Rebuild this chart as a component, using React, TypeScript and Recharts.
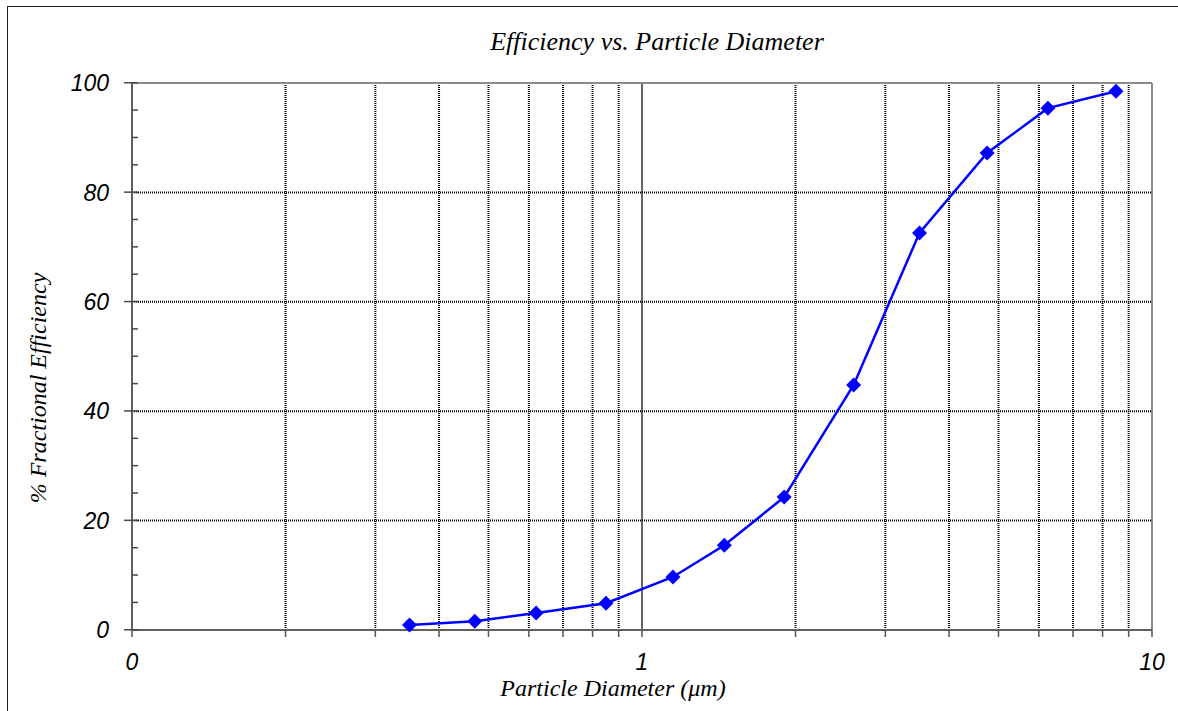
import { LineChart, Line, XAxis, YAxis, ReferenceLine } from 'recharts';

const diameters = [0.35, 0.47, 0.62, 0.85, 1.15, 1.45, 1.9, 2.6, 3.5, 4.75, 6.25, 8.5];
const efficiency = [0.9, 1.6, 3.1, 4.9, 9.7, 15.5, 24.3, 44.8, 72.6, 87.2, 95.4, 98.5];

const xTicks = [0.1, 0.2, 0.3, 0.4, 0.5, 0.6, 0.7, 0.8, 0.9, 1, 2, 3, 4, 5, 6, 7, 8, 9, 10];
const xLabelValues = [0.1, 1, 10];
const xLabelTexts = ['0', '1', '10'];
const minorGrid = [0.2, 0.3, 0.4, 0.5, 0.6, 0.7, 0.8, 0.9, 2, 3, 4, 5, 6, 7, 8, 9];

const yTicks = [0, 5, 10, 15, 20, 25, 30, 35, 40, 45, 50, 55, 60, 65, 70, 75, 80, 85, 90, 95, 100];
const yLabelTicks = [0, 20, 40, 60, 80, 100];
const hGrid = [20, 40, 60, 80];

const data = diameters.map((d, i) => ({ d, eff: efficiency[i] }));

const tickFont = { fontFamily: '"Liberation Sans", Arial, sans-serif', fontStyle: 'italic', fontSize: 23 };
const serif = '"Liberation Serif", "Times New Roman", serif';

const Diamond = (props: any) => {
  const { cx, cy } = props;
  if (cx == null || cy == null) return null;
  const r = 7.5;
  return (
    <polygon
      points={`${cx},${cy - r} ${cx + r},${cy} ${cx},${cy + r} ${cx - r},${cy}`}
      fill="#0000FF"
    />
  );
};

// y ticks: majors cross the axis, minors only point inward
const YTick = (props: any) => {
  const { x, y, payload } = props;
  const v = payload.value;
  const major = yLabelTicks.includes(v);
  return (
    <g>
      <rect x={major ? x - 8 : x} y={y - 1} width={major ? 14 : 6} height={1.5} fill="#4a4a4a" />
      {major && (
        <text x={x - 23} y={y} dy="0.36em" textAnchor="end" fill="#000" style={tickFont}>
          {v}
        </text>
      )}
    </g>
  );
};

const XTick = (props: any) => {
  const { x, y, payload } = props;
  const idx = xLabelValues.findIndex((v) => Math.abs(v - payload.value) < 1e-9);
  if (idx < 0) return <g />;
  return (
    <text x={x} y={y + 31} textAnchor="middle" fill="#000" style={tickFont}>
      {xLabelTexts[idx]}
    </text>
  );
};

const App = () => {
  return (
    <div style={{ position: 'fixed', left: 0, top: 0, width: 1178, height: 711, background: '#fff', overflow: 'hidden' }}>
      <div
        style={{
          position: 'absolute',
          left: 7,
          top: 6,
          width: 1200,
          height: 720,
          borderLeft: '1px solid #222',
          borderTop: '1px solid #222',
        }}
      />
      <div
        style={{
          position: 'absolute',
          left: 0,
          width: 1178,
          top: 28,
          textAlign: 'center',
          paddingLeft: 136,
          boxSizing: 'border-box',
          fontFamily: serif,
          fontStyle: 'italic',
          fontSize: 26,
          lineHeight: '28px',
        }}
      >
        Efficiency vs. Particle Diameter
      </div>
      <div
        style={{
          position: 'absolute',
          left: 0,
          width: 1178,
          top: 674,
          textAlign: 'center',
          paddingLeft: 48,
          boxSizing: 'border-box',
          fontFamily: serif,
          fontStyle: 'italic',
          fontSize: 24,
          lineHeight: '28px',
        }}
      >
        Particle Diameter (<span>μ</span>m)
      </div>
      <div
        style={{
          position: 'absolute',
          left: 38,
          top: 388,
          transform: 'translate(-50%, -50%) rotate(-90deg)',
          whiteSpace: 'nowrap',
          fontFamily: serif,
          fontStyle: 'italic',
          fontSize: 24,
          lineHeight: '28px',
        }}
      >
        % Fractional Efficiency
      </div>
      <div style={{ position: 'absolute', left: 0, top: 0 }}>
        <LineChart width={1178} height={711} data={data} margin={{ top: 83, right: 26, left: 72, bottom: 51 }}>
          {minorGrid.map((v) => (
            <ReferenceLine key={`mg-${v}`} x={v} stroke="#000" strokeWidth={2} strokeDasharray="1 1" />
          ))}
          <ReferenceLine x={1} stroke="#000" strokeWidth={1.2} />
          {hGrid.map((v) => (
            <ReferenceLine key={`hg-${v}`} y={v} stroke="#000" strokeWidth={2} strokeDasharray="1 1" />
          ))}
          <ReferenceLine y={100} stroke="#8c8c8c" strokeWidth={2} />
          <ReferenceLine x={10} stroke="#8c8c8c" strokeWidth={2} />
          <XAxis
            dataKey="d"
            type="number"
            scale="log"
            domain={[0.1, 10]}
            ticks={xTicks}
            interval={0}
            allowDataOverflow
            height={30}
            tickSize={7}
            axisLine={{ stroke: '#606060', strokeWidth: 2 }}
            tickLine={{ stroke: '#555', strokeWidth: 1.5 }}
            tick={<XTick />}
          />
          <YAxis
            type="number"
            domain={[0, 100]}
            ticks={yTicks}
            interval={0}
            width={60}
            tickSize={0}
            tickMargin={0}
            axisLine={{ stroke: '#606060', strokeWidth: 2 }}
            tickLine={false}
            tick={<YTick />}
          />
          <Line
            dataKey="eff"
            stroke="#0000FF"
            strokeWidth={2.5}
            dot={<Diamond />}
            activeDot={false}
            isAnimationActive={false}
          />
        </LineChart>
      </div>
    </div>
  );
};

export default App;
